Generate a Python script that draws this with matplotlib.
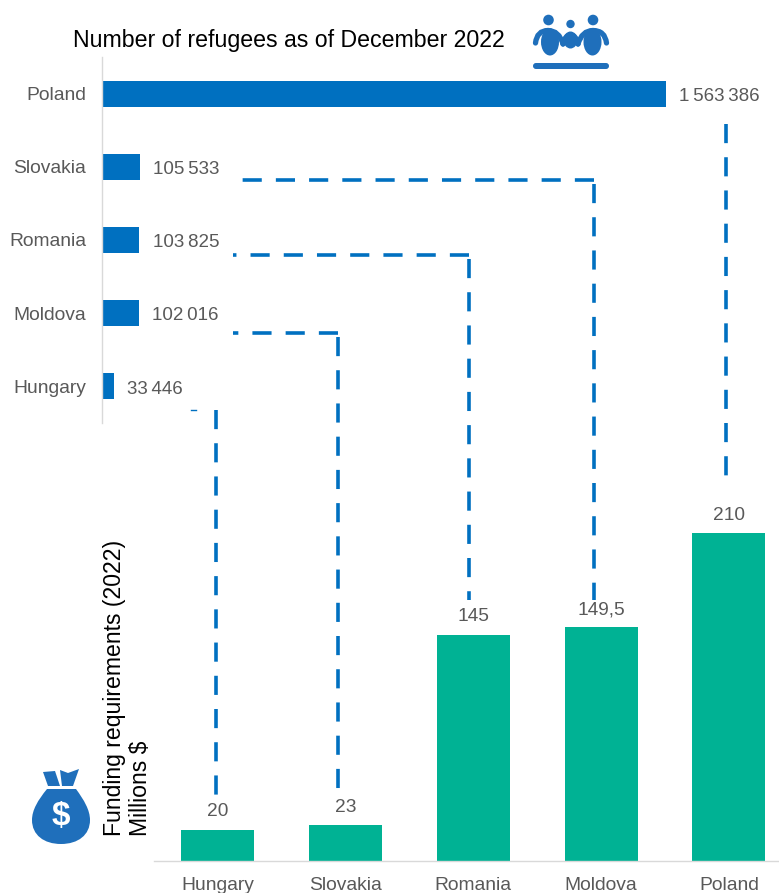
import matplotlib
matplotlib.use("Agg")
import matplotlib.pyplot as plt
from matplotlib.patches import Circle, Ellipse, FancyBboxPatch, PathPatch, Polygon
from matplotlib.path import Path

# Refugee counts, top to bottom
refugee_countries = ["Poland", "Slovakia", "Romania", "Moldova", "Hungary"]
refugee_counts = [1563386, 105533, 103825, 102016, 33446]

# Funding requirements, millions of dollars
funding_countries = ["Hungary", "Slovakia", "Romania", "Moldova", "Poland"]
funding_values = [20, 23, 145, 149.5, 210]
funding_labels = ["20", "23", "145", "149,5", "210"]

BLUE = "#0070C0"
ICON_BLUE = "#1F6FBB"
TEAL = "#00B294"
GREY_TEXT = "#595959"
AXIS_GREY = "#D9D9D9"
W, H = 779, 893

plt.rcParams["font.family"] = ["Liberation Sans", "DejaVu Sans"]


def px_axes(fig, left, top, right, bottom):
    return fig.add_axes([left / W, 1 - bottom / H, (right - left) / W, (bottom - top) / H])


def spaced(n):
    return f"{n:,}".replace(",", "\u2009")


fig = plt.figure(figsize=(W / 100, H / 100), dpi=100, facecolor="white")

# Horizontal bars: refugees per country
ax_top = px_axes(fig, 102, 57, 779, 423)
ax_top.barh(refugee_countries, refugee_counts, height=0.355, color=BLUE)
ax_top.set_xlim(0, 1563386 * 677 / 564)
ax_top.set_ylim(4.5, -0.5)
ax_top.xaxis.set_visible(False)
for side in ("top", "right", "bottom"):
    ax_top.spines[side].set_visible(False)
ax_top.spines["left"].set_color(AXIS_GREY)
ax_top.spines["left"].set_linewidth(1.0)
ax_top.tick_params(axis="y", length=0, pad=11.5, labelsize=13.9, labelcolor=GREY_TEXT)
for i, n in enumerate(refugee_counts):
    ax_top.annotate(spaced(n), (n, i), xytext=(9.6, -2.0), textcoords="offset points",
                    va="center", ha="left", fontsize=13.5, color=GREY_TEXT)

# Vertical bars: funding per country
ax_bot = px_axes(fig, 154, 500, 779, 861)
ax_bot.bar(funding_countries, funding_values, width=73 / 127.75, color=TEAL)
ax_bot.set_xlim(-0.5, 625 / 127.75 - 0.5)
ax_bot.set_ylim(0, 361 / 1.562)
ax_bot.yaxis.set_visible(False)
for side in ("top", "right", "left"):
    ax_bot.spines[side].set_visible(False)
ax_bot.spines["bottom"].set_color(AXIS_GREY)
ax_bot.spines["bottom"].set_linewidth(1.0)
ax_bot.tick_params(axis="x", length=0, pad=11.2, labelsize=13.9, labelcolor=GREY_TEXT)
for i, (v, lab) in enumerate(zip(funding_values, funding_labels)):
    ax_bot.annotate(lab, (i, v), xytext=(0, 6.7), textcoords="offset points",
                    va="bottom", ha="center", fontsize=13.8, color=GREY_TEXT)

# Pixel-addressed layer for titles, connectors and icons
ov = px_axes(fig, 0, 0, W, H)
ov.set_xlim(0, W)
ov.set_ylim(H, 0)
ov.axis("off")
ov.patch.set_alpha(0)

ov.text(73, 40, "Number of refugees as of December 2022", fontsize=16.7,
        color="black", va="center", ha="left")
ov.text(127.5, 688, "Funding requirements (2022)\nMillions $", fontsize=16.6, rotation=90,
        color="black", va="center", ha="center", linespacing=1.2, multialignment="left")

# Dashed connectors, each leg starting at its corner so a full dash sits there
dash = dict(color=BLUE, lw=2.6, linestyle=(0, (5.3, 3.9)), dash_capstyle="butt", zorder=3)
connector_legs = [
    ([726, 726], [124, 480]),
    ([594, 233], [180, 180]),
    ([594, 594], [184, 600]),
    ([469, 233], [255, 255]),
    ([469, 469], [259, 600]),
    ([338, 233], [333, 333]),
    ([338, 338], [337, 790]),
    ([216, 216], [410, 795]),
]
for xs, ys in connector_legs:
    ov.plot(xs, ys, **dash)
ov.plot([191, 196], [409.5, 409.5], color=BLUE, lw=1.0)

# Family icon
for cx, cy, r in [(548.5, 20, 5.3), (570.5, 24, 4.2), (593, 20, 5.3)]:
    ov.add_patch(Circle((cx, cy), r, color=ICON_BLUE, lw=0))
for cx in (550, 592.5):
    ov.add_patch(Ellipse((cx, 42), 18, 27, color=ICON_BLUE, lw=0))
ov.add_patch(Ellipse((570.5, 40), 14, 17, color=ICON_BLUE, lw=0))
arm = dict(facecolor="none", edgecolor=ICON_BLUE, lw=3.8, capstyle="round")
curve = [Path.MOVETO, Path.CURVE3, Path.CURVE3]
arm_paths = [
    [(535.5, 43), (537, 30.5), (548, 30.5)],
    [(548, 30.5), (559, 30.5), (563, 44)],
    [(578, 44), (582, 30.5), (593, 30.5)],
    [(593, 30.5), (605, 30.5), (606.5, 43)],
    [(563, 44), (565, 35), (570.5, 35)],
    [(570.5, 35), (576, 35), (578, 44)],
]
for pts in arm_paths:
    ov.add_patch(PathPatch(Path(pts, curve), **arm))
ov.add_patch(FancyBboxPatch((533, 63), 76, 6, boxstyle="round,pad=0,rounding_size=3",
                            color=ICON_BLUE, lw=0))

# Money bag icon
bag = Path(
    [(47, 789), (76, 789),
     (84, 800), (90, 810), (90, 820),
     (90, 835), (78, 844), (61, 844),
     (44, 844), (32, 835), (32, 820),
     (32, 810), (38, 800), (47, 789)],
    [Path.MOVETO, Path.LINETO] + [Path.CURVE4] * 12,
)
ov.add_patch(PathPatch(bag, facecolor=ICON_BLUE, edgecolor="none"))
ov.add_patch(Polygon([(43, 772), (55, 771), (60, 786), (48, 786)], color=ICON_BLUE, lw=0))
ov.add_patch(Polygon([(60, 770), (68, 773), (79, 769), (73, 786), (62, 786)], color=ICON_BLUE, lw=0))
ov.text(60.5, 816.5, "$", color="white", fontsize=24, fontweight="bold", ha="center", va="center")

fig.savefig("out.png", dpi=100)
